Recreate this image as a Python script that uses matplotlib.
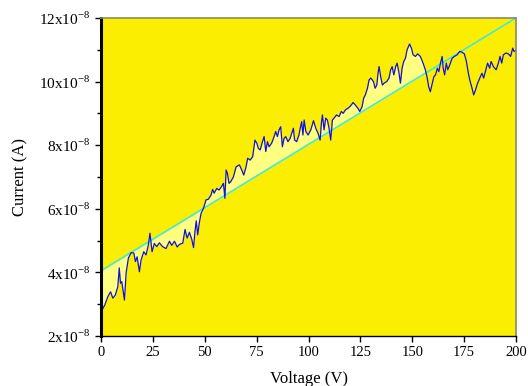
import matplotlib
matplotlib.use("Agg")
import matplotlib.pyplot as plt
from matplotlib.ticker import FuncFormatter, MultipleLocator
import numpy as np

plt.rcParams['font.family'] = ['Liberation Serif', 'DejaVu Serif']
plt.rcParams['mathtext.fontset'] = 'custom'
plt.rcParams['mathtext.rm'] = 'Liberation Serif'

# measured I-V data (current in units of 1e-8 A)
voltage = [0.0, 0.5, 1.8, 3.3, 4.6, 5.7, 6.9, 8.1, 8.8, 9.4, 10.0, 11.3, 12.1, 13.2, 14.5,
           15.8, 16.6, 17.4, 18.5, 19.3, 20.6, 21.7, 22.8, 23.6, 24.6, 25.7, 26.9, 28.1,
           29.7, 31.3, 33.0, 34.1, 35.4, 36.7, 37.8, 39.4, 40.5, 41.5, 42.6, 43.7, 44.6,
           45.3, 45.9, 46.6, 47.4, 48.2, 49.4, 50.6, 51.7, 53.0, 53.8, 54.5, 55.8, 56.9,
           58.0, 59.0, 59.7, 60.3, 60.9, 61.7, 62.5, 63.8, 65.1, 66.7, 67.8, 68.8, 69.9,
           70.7, 71.9, 73.1, 74.2, 75.1, 75.8, 76.7, 77.8, 78.6, 79.4, 80.2, 81.0, 82.2,
           83.1, 84.2, 85.0, 85.8, 86.6, 87.4, 88.2, 89.0, 90.1, 91.1, 92.2, 92.7, 93.3,
           94.3, 95.4, 96.0, 96.7, 97.3, 97.9, 98.7, 99.8, 101.1, 102.4, 103.5, 104.6,
           105.6, 106.2, 106.7, 107.5, 108.3, 109.1, 109.9, 110.7, 111.5, 112.3, 113.5,
           114.7, 115.8, 116.7, 117.8, 119.0, 120.2, 121.5, 122.6, 123.8, 124.7, 125.8,
           126.6, 127.4, 128.4, 129.2, 130.0, 131.3, 132.1, 132.9, 133.5, 134.0, 134.8,
           135.6, 136.4, 137.7, 138.8, 139.6, 140.3, 141.1, 142.0, 142.7, 143.5, 144.3,
           145.1, 145.9, 146.7, 147.5, 148.7, 149.6, 150.4, 151.5, 152.6, 153.9, 155.2,
           156.3, 157.1, 157.9, 158.7, 159.7, 160.4, 161.2, 162.1, 162.8, 163.6, 164.4,
           164.9, 165.6, 166.4, 167.1, 168.1, 169.2, 170.3, 171.6, 172.9, 174.0, 175.1,
           176.1, 176.9, 177.7, 178.6, 179.6, 180.5, 181.5, 182.8, 183.6, 184.4, 185.2,
           186.3, 187.3, 188.0, 189.1, 190.4, 191.5, 192.3, 193.1, 193.9, 195.2, 196.3,
           197.4, 198.4, 199.0, 200.0]
current = [2.78, 2.82, 2.97, 3.24, 3.39, 3.19, 3.29, 3.55, 4.14, 3.66, 3.71, 3.13, 3.98, 4.45,
           4.62, 4.61, 4.34, 4.49, 4.02, 4.39, 4.65, 4.55, 4.86, 5.23, 4.65, 4.91, 4.81, 4.93,
           4.81, 4.75, 4.98, 4.85, 4.98, 4.80, 4.88, 4.92, 5.35, 5.08, 5.26, 5.05, 4.78, 5.30,
           5.62, 5.18, 5.57, 5.85, 6.02, 6.28, 6.30, 6.43, 6.61, 6.49, 6.64, 6.59, 6.69, 6.80,
           6.33, 7.22, 7.12, 6.80, 6.85, 7.00, 7.32, 7.38, 7.22, 7.06, 7.32, 7.59, 7.53, 7.64,
           8.16, 8.06, 7.90, 7.85, 8.11, 8.27, 7.80, 8.11, 7.95, 8.06, 8.21, 8.43, 8.27, 8.48,
           8.58, 7.95, 8.21, 8.27, 8.11, 8.21, 8.43, 8.53, 8.16, 8.11, 8.32, 8.53, 8.74, 8.32,
           8.79, 8.43, 8.32, 8.48, 8.77, 8.53, 8.37, 8.16, 8.69, 8.95, 8.48, 8.85, 8.79, 8.53,
           8.16, 8.79, 8.85, 8.95, 8.90, 9.06, 9.00, 9.11, 9.16, 9.23, 9.34, 9.26, 9.16, 9.06,
           9.21, 9.48, 9.58, 9.79, 10.05, 10.11, 10.00, 9.79, 9.89, 10.26, 10.47, 10.15, 9.89,
           9.95, 10.00, 10.11, 10.37, 10.47, 10.21, 10.47, 10.58, 10.31, 9.95, 10.42, 10.63,
           10.73, 11.00, 11.18, 11.05, 10.84, 10.79, 10.87, 10.79, 10.58, 10.37, 10.15, 9.84,
           9.68, 9.95, 10.15, 10.21, 10.42, 10.31, 10.58, 10.79, 10.42, 10.21, 10.58, 10.37,
           10.53, 10.73, 10.79, 10.84, 10.95, 10.92, 10.87, 10.63, 10.31, 10.05, 9.84, 9.58,
           9.74, 9.95, 10.15, 10.26, 10.11, 10.31, 10.58, 10.42, 10.63, 10.47, 10.37, 10.58,
           10.79, 10.58, 10.84, 10.90, 10.87, 10.79, 11.05, 10.95, 10.98]

# linear fit line endpoints
fit_voltage = [0, 200]
fit_current = [4.05, 12.0]
fill_end = 156

yticks = [2, 4, 6, 8, 10, 12]
xticks = [0, 25, 50, 75, 100, 125, 150, 175, 200]

v = np.array(voltage)
i = np.array(current)
fit_at_v = np.interp(v, fit_voltage, fit_current)

fig = plt.figure(figsize=(5.28, 3.86), dpi=100)
ax = fig.add_axes([0.1913, 0.1295, 0.786, 0.824])
ax.set_facecolor('#FCEE00')

ax.fill_between(v, i, fit_at_v, where=v <= fill_end, color='#FFFF80',
                linewidth=0, interpolate=True)
ax.plot(fit_voltage, fit_current, color='#40E8E0', linewidth=1.2)
ax.plot(v, i, color='#1010E0', linewidth=0.9)

ax.set_xlim(0, 200)
ax.set_ylim(2, 12)
ax.set_xticks(xticks)
ax.set_yticks(yticks)
ax.yaxis.set_minor_locator(MultipleLocator(1))
ax.yaxis.set_major_formatter(FuncFormatter(lambda y, pos: f"{int(y)}x10$^{{-8}}$"))

ax.tick_params(direction='out', labelsize=11, length=4, width=1, colors='black')
ax.tick_params(axis='x', labelsize=10.5)
ax.tick_params(which='minor', direction='out', length=3, width=1)

for side in ['top', 'right']:
    ax.spines[side].set_color('#8C8C5C')
    ax.spines[side].set_linewidth(1.2)
for side in ['left', 'bottom']:
    ax.spines[side].set_color('black')
    ax.spines[side].set_linewidth(1.0)
ax.spines['left'].set_linewidth(2.2)

ax.set_xlabel("Voltage (V)", fontsize=12, labelpad=8)
ax.set_ylabel("Current (A)", fontsize=12, labelpad=8)

fig.savefig("out.png", dpi=100, facecolor='white')
